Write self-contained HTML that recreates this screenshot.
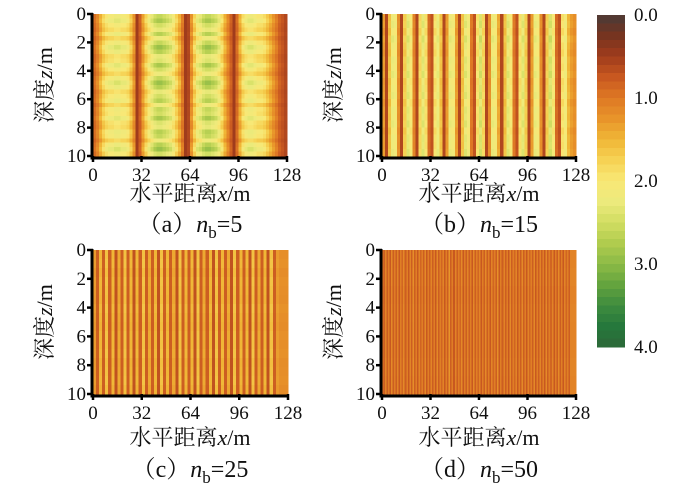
<!DOCTYPE html>
<html><head><meta charset="utf-8">
<style>
html,body{margin:0;padding:0;background:#fff;}
svg{display:block;}
text{font-family:"Liberation Serif","Noto Serif CJK SC","Noto Sans CJK SC",serif;fill:#111;}
</style></head>
<body>
<svg id="fig" width="700" height="487" viewBox="0 0 700 487" xmlns="http://www.w3.org/2000/svg"></svg>
<script>
// Data: column profile values (left to right) for each panel
const colsA=[0.9,1.1,1.4,1.7,1.9,2.0,2.0,2.1,2.1,2.0,2.0,1.9,1.6,1.2,0.5,0.8,1.3,1.7,2.0,2.2,2.4,2.5,2.5,2.4,2.3,2.2,2.0,1.7,1.4,1.0,0.5,0.6,1.2,1.7,2.1,2.2,2.4,2.5,2.5,2.4,2.3,2.1,1.8,1.4,1.1,0.8,0.5,0.9,1.4,1.8,2.0,2.1,2.1,2.0,1.9,1.9,1.8,1.6,1.4,1.2,1.0,0.8,0.7,0.6];
const colsB=[1.3,0.6,1.6,2.2,2.1,1.2,0.6,1.7,2.3,2.0,1.1,0.6,1.8,2.3,1.9,0.9,0.7,1.9,2.2,1.6,0.6,1.3,2.2,2.1,1.3,0.6,1.6,2.3,2.1,1.0,0.7,1.9,2.4,1.8,0.6,1.2,2.2,2.1,1.4,0.6,1.6,2.3,2.0,1.0,0.7,1.9,2.3,1.7,0.6,1.3,2.2,2.1,1.2,0.6,1.7,2.4,2.0,0.9,0.7,1.9,2.1,1.5,1.3,1.2];
const colsC=[1.3,0.8,1.5,0.8,1.6,0.8,1.5,0.7,1.4,0.8,1.6,0.8,1.5,0.7,1.5,0.8,1.6,0.8,1.4,0.8,1.5,0.7,1.6,0.8,1.5,0.8,1.4,0.7,1.6,0.8,1.5,0.8,1.5,0.7,1.6,0.8,1.4,0.8,1.5,0.7,1.6,0.8,1.5,0.8,1.4,0.7,1.6,0.8,1.5,0.8,1.5,0.7,1.6,0.8,1.4,0.8,1.5,0.7,1.6,0.8,1.3,1.2,1.2,1.2];
const colsD=[0.95,0.8,1.1,0.8,1.05,0.75,1.15,0.8,1.05,0.8,1.1,0.75,1.05,0.85,1.15,0.8,1.05,0.75,1.1,0.8,1.2,0.8,1.05,0.75,1.1,0.85,1.05,0.8,1.15,0.75,1.05,0.8,1.1,0.8,1.05,0.75,1.15,0.8,1.05,0.85,1.1,0.75,1.05,0.8,1.25,0.8,1.05,0.75,1.1,0.8,1.05,0.85,1.15,0.75,1.05,0.8,1.1,0.8,1.05,0.75,1.15,0.8,1.05,0.85,1.1,0.75,1.05,0.8,1.15,0.8,1.05,0.75,1.1,0.85,1.05,0.8,1.2,0.75,1.05,0.8,1.1,0.8,1.05,0.75,1.15,0.8,1.05,0.85,1.1,0.75,1.05,0.8,1.15,0.8,1.05,0.75,1.1,0.85,1.05,0.8,1.15,0.75,1.05,0.8,1.1,0.8,1.05,0.75,1.15,0.8,1.05,0.85,1.1,0.75,1.05,0.8,1.15,0.8,1.05,0.75,1.1,0.85,1.05,0.8,1.1,1.1,1.1,1.1];
// depth (row) variation, top to bottom
const rowsA=[0.05,0.15,0.0,-0.1,0.1,-0.15,0.05,0.2,0.1,-0.1,-0.05,0.15,0.0,-0.15,0.05,0.2,0.1,-0.1,0.0,0.1,-0.15,0.05,0.0,0.15,-0.05,-0.1,0.1,0.05,-0.15,0.1,0.2,0.0];
const rowsB=[0.0,0.05,-0.05,0.08,0.0,-0.06,0.04,0.0,0.07,-0.04,0.0,0.05,-0.06,0.03,0.0,0.06,-0.05,0.02,0.0,0.05];
const rowsC=[0.0,0.03,-0.03,0.02,0.0,-0.02,0.04,0.0,-0.03,0.02,0.0,0.03,-0.02,0.0,0.02,-0.03];
const rowsD=[0.0,0.02,-0.02,0.01,0.0,-0.01,0.02,0.0];
const xTicks=[0,32,64,96,128];
const yTicks=[0,2,4,6,8,10];
const cbTicks=[0.0,1.0,2.0,3.0,4.0];
const captions=[["a","5"],["b","15"],["c","25"],["d","50"]];

const stops=[[0,[74,58,54]],[0.25,[118,52,32]],[0.5,[160,60,28]],[0.75,[200,88,32]],[1.0,[222,120,36]],[1.25,[232,148,42]],[1.5,[240,182,54]],[1.75,[246,210,84]],[2.0,[248,232,118]],[2.25,[236,234,124]],[2.5,[210,222,98]],[2.75,[176,204,78]],[3.0,[140,186,70]],[3.25,[100,164,62]],[3.5,[62,140,62]],[3.75,[38,120,60]],[4.0,[44,104,56]]];
function cmap(v){v=Math.max(0,Math.min(4,v));for(let i=1;i<stops.length;i++){if(v<=stops[i][0]){const a=stops[i-1],b=stops[i];const t=(v-a[0])/(b[0]-a[0]);const c=a[1].map((x,k)=>Math.round(x+(b[1][k]-x)*t));return `rgb(${c[0]},${c[1]},${c[2]})`;}}return 'rgb(44,104,56)';}

const NS="http://www.w3.org/2000/svg";
const svg=document.getElementById('fig');
function el(tag,attrs,parent){const e=document.createElementNS(NS,tag);for(const k in attrs)e.setAttribute(k,attrs[k]);(parent||svg).appendChild(e);return e;}

const panels=[
 {x0:93,x1:287,y0:14,y1:156,cols:colsA,rows:rowsA,tx:190,ty1:201,ty2:232,yt:47,name:'a'},
 {x0:382,x1:576,y0:14,y1:156,cols:colsB,rows:rowsB,tx:479,ty1:201,ty2:232,yt:336,name:'b'},
 {x0:93,x1:288,y0:250,y1:394,cols:colsC,rows:rowsC,tx:190,ty1:445,ty2:477,yt:47,name:'c'},
 {x0:382,x1:576,y0:250,y1:394,cols:colsD,rows:rowsD,tx:479,ty1:445,ty2:477,yt:336,name:'d'}
];
panels.forEach((p,pi)=>{
  const g=el('g',{});
  
  
  const xs=v=>p.x0+(v/128)*(p.x1-p.x0);
  const ys=v=>p.y0+(v/10)*(p.y1-p.y0);
  const hm=el('g',{'shape-rendering':'crispEdges'},g);
  
  
  const nc=p.cols.length,nr=p.rows.length;
  for(let r=0;r<nr;r++){
    for(let c=0;c<nc;c++){
      const v=p.cols[c]+p.rows[r]*(p.cols[c]-0.5);
      const xa=xs(c*128/nc),xb=xs((c+1)*128/nc),ya=ys(r*10/nr),yb=ys((r+1)*10/nr);
      const rc=el('rect',{x:xa,y:ya,width:xb-xa+0.6,height:yb-ya+0.6,fill:cmap(v)},hm);
      
      
    }
  }
  const ax=el('path',{d:`M${p.x0-1},${p.y0-1} V${p.y1+2} H${p.x1+1}`,stroke:'#000','stroke-width':3,fill:'none'},g);
  
  
  yTicks.forEach(t=>{
    el('line',{x1:p.x0-6,x2:p.x0,y1:ys(t),y2:ys(t),stroke:'#000','stroke-width':2.5},g);
    const tl=el('text',{x:p.x0-7,y:ys(t)+6,'text-anchor':'end','font-size':19},g);
    tl.textContent=t;
    
    
  });
  xTicks.forEach(t=>{
    el('line',{x1:xs(t),x2:xs(t),y1:p.y1,y2:p.y1+6,stroke:'#000','stroke-width':2.5},g);
    const tl=el('text',{x:xs(t),y:p.y1+25,'text-anchor':'middle','font-size':19},g);
    tl.textContent=t;
    
    
  });
  const cy=(p.y0+p.y1)/2;
  const yt=el('text',{x:p.yt,y:cy,transform:`rotate(-90 ${p.yt} ${cy})`,'text-anchor':'middle','dominant-baseline':'middle','font-size':22},g);
  yt.innerHTML='深度<tspan font-style="italic">z</tspan>/m';
  
  
  const xt=el('text',{x:p.tx,y:p.ty1,'text-anchor':'middle','font-size':22},g);
  xt.innerHTML='水平距离<tspan font-style="italic">x</tspan>/m';
  
  
  const cp=el('text',{x:p.tx,y:p.ty2,'text-anchor':'middle','font-size':24},g);
  cp.innerHTML=`（${captions[pi][0]}）<tspan font-style="italic">n</tspan><tspan font-size="17" dy="6">b</tspan><tspan dy="-6">=${captions[pi][1]}</tspan>`;
  
  
});
const cb=el('g',{'shape-rendering':'crispEdges'});


const cbX=597,cbW=28,cbY0=15,cbY1=347,steps=40;
for(let i=0;i<steps;i++){
  const v=(i+0.5)*4/steps;
  const ya=cbY0+i*(cbY1-cbY0)/steps;
  el('rect',{x:cbX,y:ya,width:cbW,height:(cbY1-cbY0)/steps+0.6,fill:cmap(v)},cb);
}
cbTicks.forEach(t=>{
  const y=cbY0+(t/4)*(cbY1-cbY0);
  const tl=el('text',{x:634,y:y+6,'font-size':19},cb);
  tl.textContent=t.toFixed(1);
  
  
});
</script>
</body></html>
